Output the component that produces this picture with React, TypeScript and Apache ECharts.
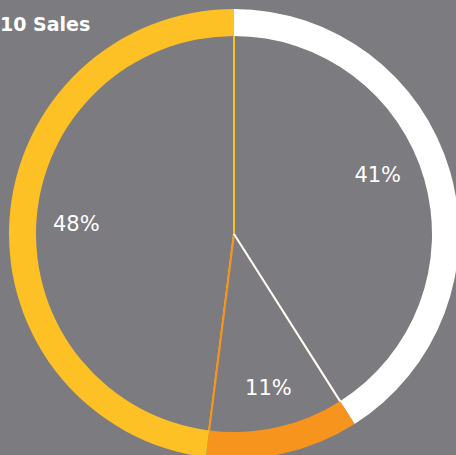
import React, { useEffect, useRef } from "react";
import * as echarts from "echarts";

const categories = ["Segment A", "Segment B", "Segment C"];
const values = [41, 11, 48];
const colors = ["#ffffff", "#f7941d", "#fdc125"];
const titleText = "10 Sales";

const BG = "#7c7b80";
const CENTER: [number, number] = [234, 234];
const H = 455;

export default function App() {
  const ref = useRef<HTMLDivElement>(null);
  useEffect(() => {
    document.body.style.margin = "0";
    const chart = echarts.init(ref.current!, null, { renderer: "svg" });
    const items = categories.map((name, i) => ({ name, value: values[i], color: colors[i] }));
    const split = CENTER[1] / H;
    const lastColor = colors[colors.length - 1];
    const edgeItems = [...items].reverse().map((d, idx, arr) => {
      const isLastDrawn = idx === arr.length - 1;
      const border = isLastDrawn
        ? new echarts.graphic.LinearGradient(
            0, 0, 0, H,
            [
              { offset: 0, color: lastColor },
              { offset: split, color: lastColor },
              { offset: split, color: d.color },
              { offset: 1, color: d.color },
            ],
            true
          )
        : d.color;
      return {
        name: d.name,
        value: d.value,
        itemStyle: { color: BG, borderColor: border, borderWidth: 2 },
      };
    });
    chart.setOption({
      animation: false,
      backgroundColor: BG,
      title: {
        text: titleText,
        left: 0,
        top: 14,
        padding: 0,
        textStyle: { color: "#ffffff", fontFamily: "DejaVu Sans", fontWeight: "bold", fontSize: 19 },
      },
      series: [
        {
          type: "pie",
          silent: true,
          center: CENTER,
          radius: [0, 200],
          startAngle: 90,
          clockwise: false,
          label: { show: false },
          labelLine: { show: false },
          data: edgeItems,
        },
        {
          type: "pie",
          silent: true,
          center: CENTER,
          radius: [198, 225],
          startAngle: 90,
          clockwise: true,
          label: { show: false },
          labelLine: { show: false },
          data: items.map((d) => ({ name: d.name, value: d.value, itemStyle: { color: d.color, borderWidth: 0 } })),
        },
        {
          type: "pie",
          silent: true,
          center: CENTER,
          radius: [110, 200],
          startAngle: 90,
          clockwise: true,
          itemStyle: { color: "transparent" },
          label: {
            show: true,
            position: "inside",
            formatter: "{c}%",
            color: "#ffffff",
            fontFamily: "DejaVu Sans",
            fontSize: 21,
          },
          labelLine: { show: false },
          data: items.map((d, i) => ({
            name: d.name,
            value: d.value,
            label: i === 0 ? { offset: [-8, -15] } : {},
          })),
        },
      ],
    });
    return () => chart.dispose();
  }, []);
  return <div ref={ref} style={{ position: "absolute", left: 0, top: 0, width: 456, height: 455 }} />;
}
